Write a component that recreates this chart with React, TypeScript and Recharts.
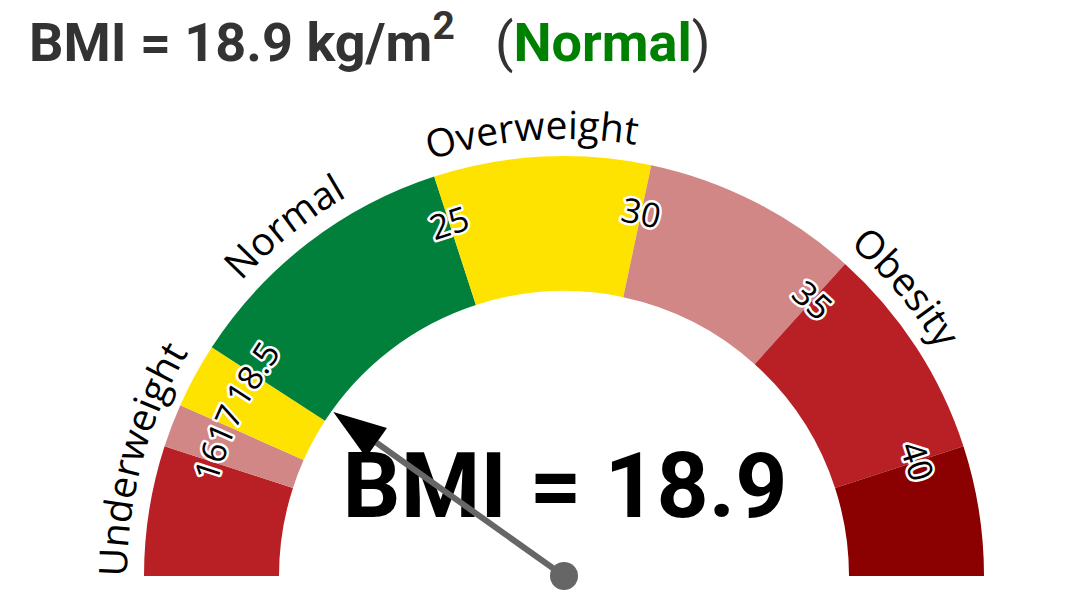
import { PieChart, Pie, Cell } from 'recharts'

// BMI scale
const bounds = [13, 16, 17, 18.5, 25, 30, 35, 40, 43]
const bandColors = ['#B82025', '#D08785', '#FFE300', '#00803A', '#FFE300', '#D08785', '#B82025', '#8B0000']
const tickLabels = ['', '16', '17', '18.5', '25', '30', '35', '40']
const categories = ['Underweight', 'Normal', 'Overweight', 'Obesity']
const categoryBounds = [13, 18.5, 25, 30, 43]
const bmi = 18.9
const bmiClass = 'Normal'

const bands = bandColors.map((color, i) => ({ name: tickLabels[i], value: bounds[i + 1] - bounds[i], color }))
const categoryData = categories.map((name, i) => ({ name, value: categoryBounds[i + 1] - categoryBounds[i] }))
const needleData = [
  { name: 'bmi', value: bmi - bounds[0] },
  { name: 'rest', value: bounds[bounds.length - 1] - bmi },
]

const RADIAN = Math.PI / 180
const FONT = 'Roboto, sans-serif'
const LABEL_FONT = '"Open Sans", sans-serif'

const polar = (cx: number, cy: number, r: number, angle: number) => ({
  x: cx + r * Math.cos(-angle * RADIAN),
  y: cy + r * Math.sin(-angle * RADIAN),
})

// tick values sit on the band boundaries, black with a white halo
function renderTick(props: any) {
  const { cx, cy, startAngle, outerRadius, index } = props
  const text = tickLabels[index]
  if (!text) return null
  const p = polar(cx, cy, outerRadius - 48, startAngle)
  return (
    <text
      key={'tick-' + index}
      x={p.x}
      y={p.y}
      textAnchor="middle"
      dominantBaseline="central"
      transform={`rotate(${90 - startAngle} ${p.x} ${p.y})`}
      fontFamily={LABEL_FONT}
      fontSize={34}
      fill="#000"
      stroke="#fff"
      strokeWidth={5}
      paintOrder="stroke"
      strokeLinejoin="round"
    >
      {text}
    </text>
  )
}

// category names follow the outer edge of the arc
function renderCategory(props: any) {
  const { cx, cy, midAngle, outerRadius, index } = props
  const r = outerRadius + 17
  const a = polar(cx, cy, r, midAngle + 60)
  const b = polar(cx, cy, r, midAngle - 60)
  const half = r * 60 * RADIAN
  const id = 'cat-path-' + index
  return (
    <g key={'cat-' + index}>
      <defs>
        <path id={id} d={`M ${a.x} ${a.y} A ${r} ${r} 0 0 1 ${b.x} ${b.y}`} />
      </defs>
      <text fontFamily={LABEL_FONT} fontSize={39} fill="#000" textAnchor="middle">
        <textPath href={'#' + id} startOffset={half - 9}>
          {categories[index]}
        </textPath>
      </text>
    </g>
  )
}

function renderNeedle(props: any) {
  const { cx, cy, endAngle, outerRadius, index } = props
  if (index !== 0) return null
  const tip = polar(cx, cy, outerRadius - 2, endAngle)
  const base = polar(cx, cy, outerRadius - 55, endAngle)
  const dx = Math.sin(endAngle * RADIAN) * 18
  const dy = Math.cos(endAngle * RADIAN) * 18
  return (
    <g key="needle">
      <line x1={cx} y1={cy} x2={base.x} y2={base.y} stroke="#666" strokeWidth={6} />
      <polygon points={`${tip.x},${tip.y} ${base.x + dx},${base.y + dy} ${base.x - dx},${base.y - dy}`} fill="#000" />
      <circle cx={cx} cy={cy} r={14} fill="#666" />
    </g>
  )
}

export default function App() {
  return (
    <div style={{ position: 'absolute', left: 0, top: 0, width: 1080, height: 599, background: '#fff' }}>
      <PieChart width={1080} height={599} margin={{ top: 0, right: 0, bottom: 0, left: 0 }}>
        <text x={29} y={61} fontFamily={FONT} fontWeight="bold" fontSize={54} fill="#333">
          BMI = {bmi} kg/m
          <tspan dy={-22} fontSize={39}>2</tspan>
          <tspan dy={22} fontWeight="normal">{'\u00a0\u00a0\u00a0('}</tspan>
          <tspan fill="#008000">{bmiClass}</tspan>
          <tspan fontWeight="normal">)</tspan>
        </text>
        <Pie
          data={categoryData}
          dataKey="value"
          cx={564}
          cy={576}
          startAngle={180}
          endAngle={0}
          innerRadius={285}
          outerRadius={420}
          fill="none"
          stroke="none"
          label={renderCategory}
          labelLine={false}
          isAnimationActive={false}
        />
        <Pie
          data={bands}
          dataKey="value"
          cx={564}
          cy={576}
          startAngle={180}
          endAngle={0}
          innerRadius={285}
          outerRadius={420}
          stroke="none"
          label={renderTick}
          labelLine={false}
          isAnimationActive={false}
        >
          {bands.map((b, i) => (
            <Cell key={i} fill={b.color} />
          ))}
        </Pie>
        <text x={565} y={517} textAnchor="middle" fontFamily={FONT} fontWeight="bold" fontSize={91} fill="#000">
          BMI = {bmi}
        </text>
        <Pie
          data={needleData}
          dataKey="value"
          cx={564}
          cy={576}
          startAngle={180}
          endAngle={0}
          innerRadius={0}
          outerRadius={285}
          fill="none"
          stroke="none"
          label={renderNeedle}
          labelLine={false}
          isAnimationActive={false}
        />
      </PieChart>
    </div>
  )
}
